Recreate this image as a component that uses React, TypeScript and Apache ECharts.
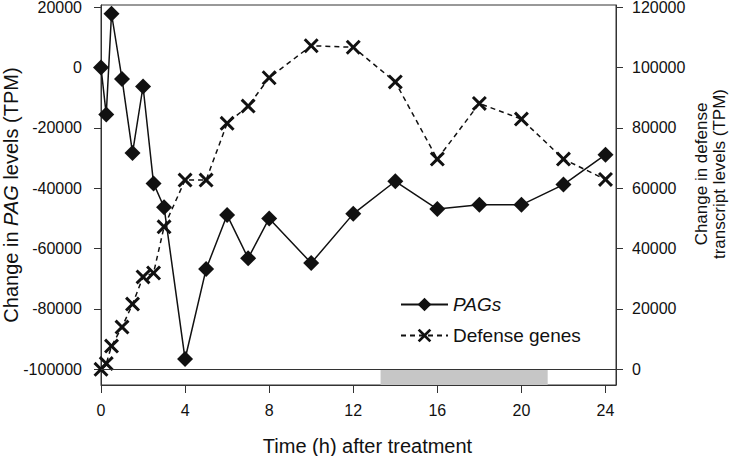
import React, { useEffect, useRef } from "react";
import * as echarts from "echarts";

const times = [0, 0.25, 0.5, 1, 1.5, 2, 2.5, 3, 4, 5, 6, 7, 8, 10, 12, 14, 16, 18, 20, 22, 24];
const pagValues = [0, -15600, 17800, -3800, -28300, -6300, -38400, -46300, -96600, -66800, -48900, -63200, -50000, -64800, -48500, -37700, -46900, -45500, -45500, -38800, -28900];
const defenseValues = [0, 1900, 7700, 14000, 21600, 30600, 31900, 47200, 62700, 62700, 81500, 87200, 96600, 107200, 106700, 95200, 69650, 88100, 82900, 69650, 62900];
const xTicks = [0, 4, 8, 12, 16, 20, 24];
const leftTicks = [-100000, -80000, -60000, -40000, -20000, 0, 20000];
const rightTicks = [0, 20000, 40000, 60000, 80000, 100000, 120000];
const darkPeriod = [13.3, 21.25];
const baselineValue = -100000;

const FONT = "'Liberation Sans', Arial, sans-serif";
const INK = "#111";
const CROSS =
  "path://M0,1.4 L1.4,0 L5,3.6 L8.6,0 L10,1.4 L6.4,5 L10,8.6 L8.6,10 L5,6.4 L1.4,10 L0,8.6 L3.6,5 Z";

export default function App() {
  const ref = useRef<HTMLDivElement>(null);
  useEffect(() => {
    if (!ref.current) return;
    const chart = echarts.init(ref.current, null, { renderer: "svg" });
    const leftMin = -105200;
    const leftMax = 20700;
    const rightMin = leftMin + 100000;
    const rightMax = leftMax + 100000;
    chart.setOption({
      animation: false,
      backgroundColor: "#fff",
      textStyle: { fontFamily: FONT, color: INK },
      grid: {
        left: 101,
        right: 126,
        top: 5,
        bottom: 71,
        containLabel: false,
        outerBoundsMode: "none",
        show: true,
        borderColor: "#333",
        borderWidth: 1,
        backgroundColor: "transparent",
      },
      legend: {
        orient: "vertical",
        left: 400,
        top: 295,
        padding: 0,
        itemWidth: 47,
        itemHeight: 17,
        itemGap: 12,
        data: ["PAGs", "Defense genes"],
        formatter: (n: string) => (n === "PAGs" ? "{i|PAGs}" : n),
        textStyle: {
          fontFamily: FONT,
          fontSize: 19,
          color: INK,
          rich: { i: { fontStyle: "italic", fontSize: 19, fontFamily: FONT, color: INK } },
        },
      },
      xAxis: {
        type: "value",
        min: 0,
        max: 24.5,
        name: "Time (h) after treatment",
        nameLocation: "middle",
        nameGap: 51,
        nameMoveOverlap: false,
        nameTextStyle: { fontSize: 20, fontFamily: FONT, color: INK, padding: [0, 0, 0, 18] },
        axisLine: { onZero: false, lineStyle: { color: "#333", width: 1 } },
        axisTick: { show: true, length: 8, customValues: xTicks, lineStyle: { color: "#333" } },
        axisLabel: { customValues: xTicks, fontSize: 16, margin: 17, color: INK, fontFamily: FONT, formatter: (v: number) => String(v) },
        splitLine: { show: false },
      },
      yAxis: [
        {
          type: "value",
          position: "left",
          min: leftMin,
          max: leftMax,
          name: "Change in {i|PAG} levels (TPM)",
          nameLocation: "middle",
          nameGap: 80,
          nameMoveOverlap: false,
          nameTextStyle: {
            fontSize: 20,
            fontFamily: FONT,
            color: INK,
            rich: { i: { fontStyle: "italic", fontSize: 20, fontFamily: FONT, color: INK } },
          },
          axisLine: { show: true, lineStyle: { color: "#333", width: 1 } },
          axisTick: { show: true, length: 7, customValues: leftTicks, lineStyle: { color: "#333" } },
          axisLabel: { customValues: leftTicks, fontSize: 16, margin: 19, color: INK, fontFamily: FONT, formatter: (v: number) => String(v) },
          splitLine: { show: false },
        },
        {
          type: "value",
          position: "right",
          min: rightMin,
          max: rightMax,
          name: "Change in defense\ntranscript levels (TPM)",
          nameLocation: "middle",
          nameGap: 76,
          nameMoveOverlap: false,
          nameTextStyle: {
            fontSize: 17,
            lineHeight: 18,
            fontFamily: FONT,
            color: INK,
            align: "center",
            padding: [0, 0, 0, 42],
          },
          axisLine: { show: true, lineStyle: { color: "#333", width: 1 } },
          axisTick: { show: true, length: 7, customValues: rightTicks, lineStyle: { color: "#333" } },
          axisLabel: { customValues: rightTicks, fontSize: 16, margin: 16, color: INK, fontFamily: FONT, formatter: (v: number) => String(v) },
          splitLine: { show: false },
        },
      ],
      series: [
        {
          name: "PAGs",
          type: "line",
          yAxisIndex: 0,
          data: times.map((t, i) => [t, pagValues[i]]),
          symbol: "diamond",
          symbolSize: 16,
          color: INK,
          itemStyle: { color: INK },
          lineStyle: { color: INK, width: 1.5, type: "solid" },
          z: 4,
          markLine: {
            silent: true,
            symbol: ["none", "none"],
            label: { show: false },
            lineStyle: { color: "#333", width: 1, type: "solid" },
            data: [{ yAxis: baselineValue }],
          },
          markArea: {
            silent: true,
            itemStyle: { color: "#c6c6c6" },
            data: [[{ xAxis: darkPeriod[0], yAxis: leftMin }, { xAxis: darkPeriod[1], yAxis: baselineValue }]],
          },
        },
        {
          name: "Defense genes",
          type: "line",
          yAxisIndex: 1,
          data: times.map((t, i) => [t, defenseValues[i]]),
          symbol: CROSS,
          symbolSize: 15,
          color: INK,
          itemStyle: { color: INK },
          lineStyle: { color: INK, width: 1.5, type: [5, 4] },
          z: 3,
        },
      ],
    });
    return () => chart.dispose();
  }, []);
  return (
    <div
      ref={ref}
      style={{ position: "fixed", left: 0, top: 0, width: 742, height: 456, background: "#fff" }}
    />
  );
}
